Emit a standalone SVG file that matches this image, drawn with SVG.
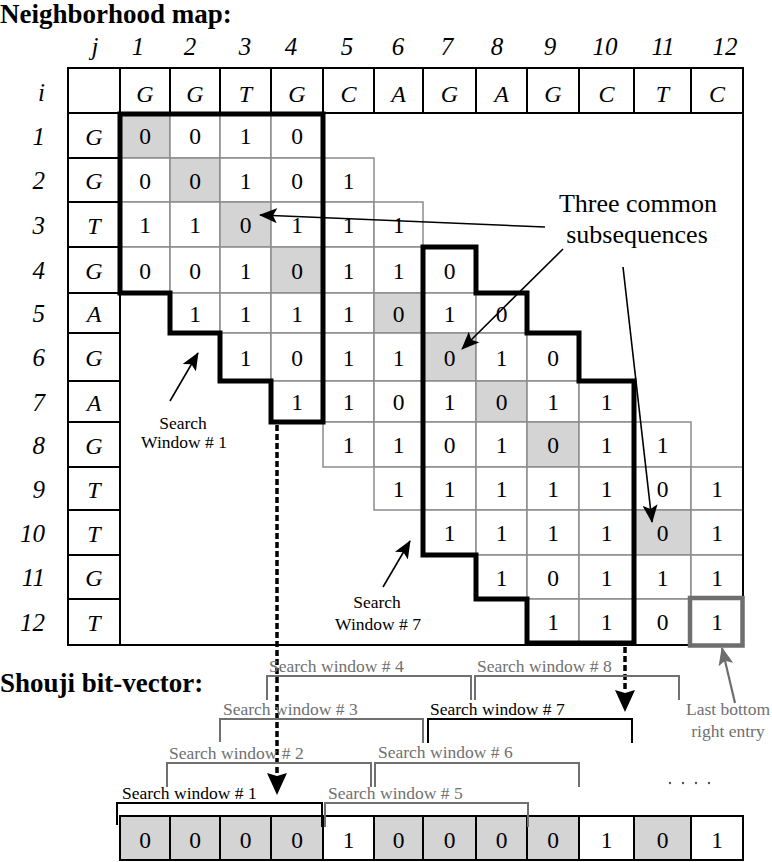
<svg xmlns="http://www.w3.org/2000/svg" width="772" height="862" viewBox="0 0 772 862">
<defs>
<style>
text{font-family:"Liberation Serif","Times New Roman",serif;fill:#000;}
.title{font-weight:bold;font-size:27px;}
.hd{font-size:25px;font-style:italic;text-anchor:middle;}
.rl{font-size:25px;font-style:italic;text-anchor:end;}
.lt{font-size:24px;font-style:italic;text-anchor:middle;}
.d{font-size:23.5px;text-anchor:middle;}
.tb{fill:#fff;stroke:#000;stroke-width:2;}
.c{fill:#fff;stroke:#8c8c8c;stroke-width:1.5;}
.s{fill:#d4d4d4;stroke:#8c8c8c;stroke-width:1.5;}
.bv{fill:#fff;stroke:#000;stroke-width:2;}
.bvs{fill:#d4d4d4;stroke:#000;stroke-width:2;}
.win{fill:none;stroke:#000;stroke-width:5;stroke-linejoin:miter;}
.lbl{font-size:17.5px;text-anchor:middle;}
.big{font-size:26px;text-anchor:middle;}
.ar{stroke:#000;stroke-width:1.6;fill:none;}
.arg{stroke:#6e6e6e;stroke-width:2.2;fill:none;}
.dash{stroke:#000;stroke-width:3.5;stroke-dasharray:6 3;fill:none;}
.brk{fill:none;stroke:#707070;stroke-width:2;}
.brkb{fill:none;stroke:#000;stroke-width:2;}
.sw{font-size:17.5px;fill:#707070;}
.swb{font-size:17.5px;fill:#000;}
.gt{font-size:17.5px;fill:#707070;text-anchor:middle;}
</style>
<marker id="ah" markerUnits="userSpaceOnUse" markerWidth="18" markerHeight="15" refX="17" refY="7.5" orient="auto"><path d="M0,0 L18,7.5 L0,15 L4,7.5 Z" fill="#000"/></marker>
<marker id="ahg" markerUnits="userSpaceOnUse" markerWidth="18" markerHeight="15" refX="17" refY="7.5" orient="auto"><path d="M0,0 L18,7.5 L0,15 L4,7.5 Z" fill="#6e6e6e"/></marker>
<marker id="ahd" markerUnits="userSpaceOnUse" markerWidth="22" markerHeight="20" refX="2" refY="10" orient="auto"><path d="M0,0 L22,10 L0,20 L3,10 Z" fill="#000"/></marker>
</defs>
<rect width="772" height="862" fill="#fff"/>

<g id="title"><text class="title" x="0" y="22.5">Neighborhood map:</text></g>

<g id="j-labels">
<text class="hd" x="95" y="55">j</text>
<text class="hd" x="138" y="55">1</text>
<text class="hd" x="190" y="55">2</text>
<text class="hd" x="245" y="55">3</text>
<text class="hd" x="291" y="55">4</text>
<text class="hd" x="347" y="55">5</text>
<text class="hd" x="398" y="55">6</text>
<text class="hd" x="447" y="55">7</text>
<text class="hd" x="497" y="55">8</text>
<text class="hd" x="550" y="55">9</text>
<text class="hd" x="605" y="55">10</text>
<text class="hd" x="663" y="55">11</text>
<text class="hd" x="725" y="55">12</text>
</g>

<g id="i-labels">
<text class="rl" x="45" y="101">i</text>
<text class="rl" x="45" y="144.5">1</text>
<text class="rl" x="45" y="189">2</text>
<text class="rl" x="45" y="233.5">3</text>
<text class="rl" x="45" y="279">4</text>
<text class="rl" x="45" y="322">5</text>
<text class="rl" x="45" y="366">6</text>
<text class="rl" x="45" y="410.5">7</text>
<text class="rl" x="45" y="453.5">8</text>
<text class="rl" x="45" y="497.5">9</text>
<text class="rl" x="45" y="541.5">10</text>
<text class="rl" x="45" y="586">11</text>
<text class="rl" x="45" y="631">12</text>
</g>

<g id="band">
<g id="row-1">
<rect class="s" x="120" y="113" width="50" height="45"/><rect class="c" x="170" y="113" width="50" height="45"/><rect class="c" x="220" y="113" width="51" height="45"/><rect class="c" x="271" y="113" width="52" height="45"/>
<text class="d" x="145" y="144">0</text><text class="d" x="195" y="144">0</text><text class="d" x="245.5" y="144">1</text><text class="d" x="297" y="144">0</text>
</g>
<g id="row-2">
<rect class="c" x="120" y="158" width="50" height="44"/><rect class="s" x="170" y="158" width="50" height="44"/><rect class="c" x="220" y="158" width="51" height="44"/><rect class="c" x="271" y="158" width="52" height="44"/><rect class="c" x="323" y="158" width="51" height="44"/>
<text class="d" x="145" y="188.5">0</text><text class="d" x="195" y="188.5">0</text><text class="d" x="245.5" y="188.5">1</text><text class="d" x="297" y="188.5">0</text><text class="d" x="348.5" y="188.5">1</text>
</g>
<g id="row-3">
<rect class="c" x="120" y="202" width="50" height="45"/><rect class="c" x="170" y="202" width="50" height="45"/><rect class="s" x="220" y="202" width="51" height="45"/><rect class="c" x="271" y="202" width="52" height="45"/><rect class="c" x="323" y="202" width="51" height="45"/><rect class="c" x="374" y="202" width="49" height="45"/>
<text class="d" x="145" y="233">1</text><text class="d" x="195" y="233">1</text><text class="d" x="245.5" y="233">0</text><text class="d" x="297" y="233">1</text><text class="d" x="348.5" y="233">1</text><text class="d" x="398.5" y="233">1</text>
</g>
<g id="row-4">
<rect class="c" x="120" y="247" width="50" height="46"/><rect class="c" x="170" y="247" width="50" height="46"/><rect class="c" x="220" y="247" width="51" height="46"/><rect class="s" x="271" y="247" width="52" height="46"/><rect class="c" x="323" y="247" width="51" height="46"/><rect class="c" x="374" y="247" width="49" height="46"/><rect class="c" x="423" y="247" width="53" height="46"/>
<text class="d" x="145" y="278.5">0</text><text class="d" x="195" y="278.5">0</text><text class="d" x="245.5" y="278.5">1</text><text class="d" x="297" y="278.5">0</text><text class="d" x="348.5" y="278.5">1</text><text class="d" x="398.5" y="278.5">1</text><text class="d" x="449.5" y="278.5">0</text>
</g>
<g id="row-5">
<rect class="c" x="170" y="293" width="50" height="40"/><rect class="c" x="220" y="293" width="51" height="40"/><rect class="c" x="271" y="293" width="52" height="40"/><rect class="c" x="323" y="293" width="51" height="40"/><rect class="s" x="374" y="293" width="49" height="40"/><rect class="c" x="423" y="293" width="53" height="40"/><rect class="c" x="476" y="293" width="51" height="40"/>
<text class="d" x="195" y="321.5">1</text><text class="d" x="245.5" y="321.5">1</text><text class="d" x="297" y="321.5">1</text><text class="d" x="348.5" y="321.5">1</text><text class="d" x="398.5" y="321.5">0</text><text class="d" x="449.5" y="321.5">1</text><text class="d" x="501.5" y="321.5">0</text>
</g>
<g id="row-6">
<rect class="c" x="220" y="333" width="51" height="48"/><rect class="c" x="271" y="333" width="52" height="48"/><rect class="c" x="323" y="333" width="51" height="48"/><rect class="c" x="374" y="333" width="49" height="48"/><rect class="s" x="423" y="333" width="53" height="48"/><rect class="c" x="476" y="333" width="51" height="48"/><rect class="c" x="527" y="333" width="52" height="48"/>
<text class="d" x="245.5" y="365.5">1</text><text class="d" x="297" y="365.5">0</text><text class="d" x="348.5" y="365.5">1</text><text class="d" x="398.5" y="365.5">1</text><text class="d" x="449.5" y="365.5">0</text><text class="d" x="501.5" y="365.5">1</text><text class="d" x="553" y="365.5">0</text>
</g>
<g id="row-7">
<rect class="c" x="271" y="381" width="52" height="41"/><rect class="c" x="323" y="381" width="51" height="41"/><rect class="c" x="374" y="381" width="49" height="41"/><rect class="c" x="423" y="381" width="53" height="41"/><rect class="s" x="476" y="381" width="51" height="41"/><rect class="c" x="527" y="381" width="52" height="41"/><rect class="c" x="579" y="381" width="55" height="41"/>
<text class="d" x="297" y="410">1</text><text class="d" x="348.5" y="410">1</text><text class="d" x="398.5" y="410">0</text><text class="d" x="449.5" y="410">1</text><text class="d" x="501.5" y="410">0</text><text class="d" x="553" y="410">1</text><text class="d" x="606.5" y="410">1</text>
</g>
<g id="row-8">
<rect class="c" x="323" y="422" width="51" height="45"/><rect class="c" x="374" y="422" width="49" height="45"/><rect class="c" x="423" y="422" width="53" height="45"/><rect class="c" x="476" y="422" width="51" height="45"/><rect class="s" x="527" y="422" width="52" height="45"/><rect class="c" x="579" y="422" width="55" height="45"/><rect class="c" x="634" y="422" width="57" height="45"/>
<text class="d" x="348.5" y="453">1</text><text class="d" x="398.5" y="453">1</text><text class="d" x="449.5" y="453">0</text><text class="d" x="501.5" y="453">1</text><text class="d" x="553" y="453">0</text><text class="d" x="606.5" y="453">1</text><text class="d" x="662.5" y="453">1</text>
</g>
<g id="row-9">
<rect class="c" x="374" y="467" width="49" height="43"/><rect class="c" x="423" y="467" width="53" height="43"/><rect class="c" x="476" y="467" width="51" height="43"/><rect class="c" x="527" y="467" width="52" height="43"/><rect class="c" x="579" y="467" width="55" height="43"/><rect class="c" x="634" y="467" width="57" height="43"/><rect class="c" x="691" y="467" width="52" height="43"/>
<text class="d" x="398.5" y="497">1</text><text class="d" x="449.5" y="497">1</text><text class="d" x="501.5" y="497">1</text><text class="d" x="553" y="497">1</text><text class="d" x="606.5" y="497">1</text><text class="d" x="662.5" y="497">0</text><text class="d" x="717" y="497">1</text>
</g>
<g id="row-10">
<rect class="c" x="423" y="510" width="53" height="45"/><rect class="c" x="476" y="510" width="51" height="45"/><rect class="c" x="527" y="510" width="52" height="45"/><rect class="c" x="579" y="510" width="55" height="45"/><rect class="s" x="634" y="510" width="57" height="45"/><rect class="c" x="691" y="510" width="52" height="45"/>
<text class="d" x="449.5" y="541">1</text><text class="d" x="501.5" y="541">1</text><text class="d" x="553" y="541">1</text><text class="d" x="606.5" y="541">1</text><text class="d" x="662.5" y="541">0</text><text class="d" x="717" y="541">1</text>
</g>
<g id="row-11">
<rect class="c" x="476" y="555" width="51" height="44"/><rect class="c" x="527" y="555" width="52" height="44"/><rect class="c" x="579" y="555" width="55" height="44"/><rect class="c" x="634" y="555" width="57" height="44"/><rect class="c" x="691" y="555" width="52" height="44"/>
<text class="d" x="501.5" y="585.5">1</text><text class="d" x="553" y="585.5">0</text><text class="d" x="606.5" y="585.5">1</text><text class="d" x="662.5" y="585.5">1</text><text class="d" x="717" y="585.5">1</text>
</g>
<g id="row-12">
<rect class="c" x="527" y="599" width="52" height="46"/><rect class="c" x="579" y="599" width="55" height="46"/><rect class="c" x="634" y="599" width="57" height="46"/><rect class="c" x="691" y="599" width="52" height="46"/>
<text class="d" x="553" y="629.5">1</text><text class="d" x="606.5" y="629.5">1</text><text class="d" x="662.5" y="629.5">0</text><text class="d" x="717" y="629.5">1</text>
</g>
</g>

<g id="table-frame">
<rect x="68" y="68" width="675" height="577" fill="none" stroke="#000" stroke-width="2"/>
<g id="header">
<rect class="tb" x="68" y="68" width="52" height="45"/>
<rect class="tb" x="120" y="68" width="50" height="45"/><rect class="tb" x="170" y="68" width="50" height="45"/><rect class="tb" x="220" y="68" width="51" height="45"/><rect class="tb" x="271" y="68" width="52" height="45"/><rect class="tb" x="323" y="68" width="51" height="45"/><rect class="tb" x="374" y="68" width="49" height="45"/><rect class="tb" x="423" y="68" width="53" height="45"/><rect class="tb" x="476" y="68" width="51" height="45"/><rect class="tb" x="527" y="68" width="52" height="45"/><rect class="tb" x="579" y="68" width="55" height="45"/><rect class="tb" x="634" y="68" width="57" height="45"/><rect class="tb" x="691" y="68" width="52" height="45"/>
<text class="lt" x="145" y="102">G</text><text class="lt" x="195" y="102">G</text><text class="lt" x="245.5" y="102">T</text><text class="lt" x="297" y="102">G</text><text class="lt" x="348.5" y="102">C</text><text class="lt" x="398.5" y="102">A</text><text class="lt" x="449.5" y="102">G</text><text class="lt" x="501.5" y="102">A</text><text class="lt" x="553" y="102">G</text><text class="lt" x="606.5" y="102">C</text><text class="lt" x="662.5" y="102">T</text><text class="lt" x="717" y="102">C</text>
</g>
<g id="row-letters">
<rect class="tb" x="68" y="113" width="52" height="45"/><rect class="tb" x="68" y="158" width="52" height="44"/><rect class="tb" x="68" y="202" width="52" height="45"/><rect class="tb" x="68" y="247" width="52" height="46"/><rect class="tb" x="68" y="293" width="52" height="40"/><rect class="tb" x="68" y="333" width="52" height="48"/><rect class="tb" x="68" y="381" width="52" height="41"/><rect class="tb" x="68" y="422" width="52" height="45"/><rect class="tb" x="68" y="467" width="52" height="43"/><rect class="tb" x="68" y="510" width="52" height="45"/><rect class="tb" x="68" y="555" width="52" height="44"/><rect class="tb" x="68" y="599" width="52" height="46"/>
<text class="lt" x="94" y="144.5">G</text><text class="lt" x="94" y="189">G</text><text class="lt" x="94" y="233.5">T</text><text class="lt" x="94" y="279">G</text><text class="lt" x="94" y="322">A</text><text class="lt" x="94" y="366">G</text><text class="lt" x="94" y="410.5">A</text><text class="lt" x="94" y="453.5">G</text><text class="lt" x="94" y="497.5">T</text><text class="lt" x="94" y="541.5">T</text><text class="lt" x="94" y="586">G</text><text class="lt" x="94" y="631">T</text>
</g>
</g>

<g id="window-1"><path class="win" d="M120,114 H323 V422 H271 V381 H220 V333 H170 V293 H120 Z"/></g>
<g id="window-7"><path class="win" d="M423,247 H476 V293 H527 V333 H579 V381 H634 V643 H527 V599 H476 V555 H423 Z"/></g>
<g id="last-entry"><rect x="690" y="598" width="52.5" height="47.5" fill="none" stroke="#6e6e6e" stroke-width="4.5"/></g>

<g id="labels">
<text class="big" x="638" y="212">Three common</text>
<text class="big" x="637" y="243">subsequences</text>
<text class="lbl" x="183" y="429">Search</text>
<text class="lbl" x="184" y="448">Window # 1</text>
<text class="lbl" x="377" y="608">Search</text>
<text class="lbl" x="378" y="630">Window # 7</text>
<text class="gt" x="728" y="715">Last bottom</text>
<text class="gt" x="728" y="737">right entry</text>
</g>

<g id="connectors">
<line class="ar" x1="545" y1="227" x2="260" y2="215" marker-end="url(#ah)"/>
<line class="ar" x1="563" y1="249" x2="462" y2="349" marker-end="url(#ah)"/>
<line class="ar" x1="623" y1="267" x2="652" y2="522" marker-end="url(#ah)"/>
<line class="ar" x1="170" y1="401" x2="198" y2="353" marker-end="url(#ah)"/>
<line class="ar" x1="383" y1="587" x2="410" y2="541" marker-end="url(#ah)"/>
<line class="arg" x1="735" y1="703" x2="722" y2="648" marker-end="url(#ahg)"/>
<line class="dash" x1="277" y1="425" x2="277" y2="775" marker-end="url(#ahd)"/>
<line class="dash" x1="625" y1="647" x2="625" y2="692" marker-end="url(#ahd)"/>
</g>

<g id="shouji-title"><text class="title" x="0" y="692">Shouji bit-vector:</text></g>

<g id="bit-vector">
<rect class="bvs" x="120" y="816" width="50" height="44"/><rect class="bvs" x="170" y="816" width="50" height="44"/><rect class="bvs" x="220" y="816" width="51" height="44"/><rect class="bvs" x="271" y="816" width="52" height="44"/><rect class="bv" x="323" y="816" width="51" height="44"/><rect class="bvs" x="374" y="816" width="49" height="44"/><rect class="bvs" x="423" y="816" width="53" height="44"/><rect class="bvs" x="476" y="816" width="51" height="44"/><rect class="bvs" x="527" y="816" width="52" height="44"/><rect class="bv" x="579" y="816" width="55" height="44"/><rect class="bvs" x="634" y="816" width="57" height="44"/><rect class="bv" x="691" y="816" width="52" height="44"/>
<text class="d" x="145" y="848">0</text><text class="d" x="195" y="848">0</text><text class="d" x="245.5" y="848">0</text><text class="d" x="297" y="848">0</text><text class="d" x="348.5" y="848">1</text><text class="d" x="398.5" y="848">0</text><text class="d" x="449.5" y="848">0</text><text class="d" x="501.5" y="848">0</text><text class="d" x="553" y="848">0</text><text class="d" x="606.5" y="848">1</text><text class="d" x="662.5" y="848">0</text><text class="d" x="717" y="848">1</text>
</g>

<g id="brackets">
<path class="brk" d="M267,700 V676 H471 V700"/>
<path class="brk" d="M475,700 V676 H679 V700"/>
<path class="brk" d="M220,742 V719 H423 V743"/>
<path class="brkb" d="M428,743 V719 H632 V743"/>
<path class="brk" d="M167,787 V763 H371 V787"/>
<path class="brk" d="M375,787 V763 H579 V787"/>
<path class="brkb" d="M117,825 V803 H322 V827"/>
<path class="brk" d="M325,827 V803 H528 V827"/>
<text class="sw" x="269" y="672">Search window # 4</text>
<text class="sw" x="477" y="672">Search window # 8</text>
<text class="sw" x="223" y="715">Search window # 3</text>
<text class="swb" x="430" y="715">Search window # 7</text>
<text class="sw" x="169" y="759">Search window # 2</text>
<text class="sw" x="378" y="758">Search window # 6</text>
<text class="swb" x="122" y="799">Search window # 1</text>
<text class="sw" x="328" y="799">Search window # 5</text>
</g>

<g id="ellipsis" fill="#555">
<circle cx="670" cy="783" r="1.2"/><circle cx="683" cy="783" r="1.2"/><circle cx="696" cy="783" r="1.2"/><circle cx="709" cy="783" r="1.2"/>
</g>
</svg>
